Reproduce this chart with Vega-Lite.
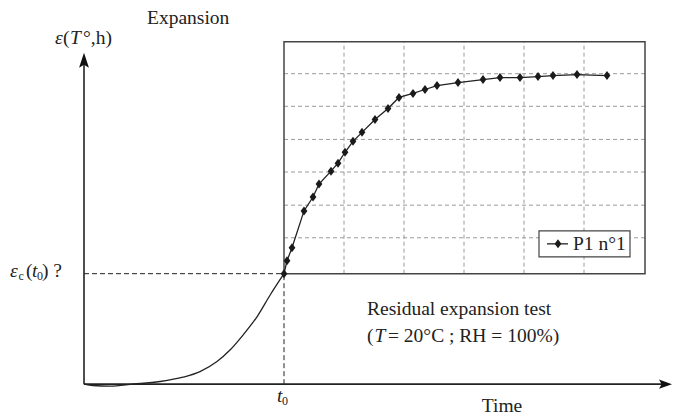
{
  "$schema": "https://vega.github.io/schema/vega-lite/v6.json",
  "autosize": {"type": "fit", "contains": "padding"},
  "width": 673,
  "height": 416,
  "padding": 0,
  "background": "white",
  "view": {"stroke": null},
  "config": {"text": {"font": "Liberation Serif", "fontSize": 19.5, "color": "#222"}},
  "datasets": {
    "curve": [
      {"t": 0, "e": 0}, {"t": 4.5, "e": -1.2}, {"t": 13, "e": -1.8}, {"t": 24.5, "e": 0},
      {"t": 38, "e": 2.4}, {"t": 49.5, "e": 6.3}, {"t": 58, "e": 11.4}, {"t": 66.5, "e": 20.5},
      {"t": 73, "e": 30.9}, {"t": 79.5, "e": 44.4}, {"t": 86.5, "e": 61}, {"t": 93, "e": 80.5},
      {"t": 100, "e": 100}
    ],
    "test": [
      {"t": 100, "e": 100}, {"t": 101.5, "e": 111.7}, {"t": 104, "e": 123.4}, {"t": 110, "e": 156.8},
      {"t": 114.5, "e": 169.4}, {"t": 117.5, "e": 181.1}, {"t": 123.5, "e": 192.8}, {"t": 127, "e": 200},
      {"t": 130.5, "e": 209.9}, {"t": 134.5, "e": 219.8}, {"t": 139, "e": 227.9}, {"t": 145.5, "e": 239.6},
      {"t": 152, "e": 249.5}, {"t": 157.5, "e": 259.5}, {"t": 164.5, "e": 263.1}, {"t": 170.5, "e": 266.7},
      {"t": 176.5, "e": 270.3}, {"t": 187, "e": 273}, {"t": 199.5, "e": 275.7}, {"t": 208, "e": 277.5},
      {"t": 218, "e": 277.5}, {"t": 227, "e": 278.4}, {"t": 234.5, "e": 279.3}, {"t": 246.5, "e": 280.2},
      {"t": 261.5, "e": 279.3}
    ],
    "axes": [
      {"t": 0, "e": 0, "t2": 0, "e2": 292},
      {"t": 0, "e": 0, "t2": 289, "e2": 0}
    ],
    "guides": [
      {"t": 0, "e": 100, "t2": 100, "e2": 100},
      {"t": 100, "e": 0, "t2": 100, "e2": 100}
    ],
    "grid": [
      {"t": 130, "e": 100, "t2": 130, "e2": 310},
      {"t": 160, "e": 100, "t2": 160, "e2": 310},
      {"t": 190, "e": 100, "t2": 190, "e2": 310},
      {"t": 220, "e": 100, "t2": 220, "e2": 310},
      {"t": 250, "e": 100, "t2": 250, "e2": 310},
      {"t": 100, "e": 132.5, "t2": 280.5, "e2": 132.5},
      {"t": 100, "e": 162, "t2": 280.5, "e2": 162},
      {"t": 100, "e": 192, "t2": 280.5, "e2": 192},
      {"t": 100, "e": 221.5, "t2": 280.5, "e2": 221.5},
      {"t": 100, "e": 251.5, "t2": 280.5, "e2": 251.5},
      {"t": 100, "e": 281, "t2": 280.5, "e2": 281}
    ],
    "box": [{"t": 100, "e": 100, "t2": 280.5, "e2": 310}],
    "legendBox": [{"t": 227.5, "e": 115.3, "t2": 273, "e2": 138.7}],
    "legendLine": [{"t": 231.5, "e": 127, "t2": 242, "e2": 127}],
    "legendMarker": [{"t": 237, "e": 127}],
    "upArrow": [{"t": 0, "e": 293.2}],
    "rightArrow": [{"t": 290.75, "e": 0}],
    "labels": [
      {"t": 31.5, "e": 331.5, "label": "Expansion"},
      {"t": -10.5, "e": 313.5, "label": "("},
      {"t": -0.5, "e": 313.5, "label": "°,h)"},
      {"t": -29, "e": 102.7, "label": "("},
      {"t": -21, "e": 102.7, "label": ") ?"},
      {"t": 141.5, "e": 67.6, "label": "Residual expansion test"},
      {"t": 141.5, "e": 43.2, "label": "("},
      {"t": 152, "e": 43.2, "label": "= 20°C ; RH = 100%)"},
      {"t": 244.5, "e": 127, "label": "P1 n°1"}
    ],
    "italics": [
      {"t": -14.5, "e": 313.5, "label": "ε"},
      {"t": -7, "e": 313.5, "label": "T"},
      {"t": -37, "e": 102.7, "label": "ε"},
      {"t": -26, "e": 102.7, "label": "t"},
      {"t": 145.25, "e": 43.2, "label": "T"},
      {"t": 96.5, "e": -10.8, "label": "t"}
    ],
    "subs": [
      {"t": -32.8, "e": 98.2, "label": "c"},
      {"t": -23.5, "e": 98.2, "label": "0"},
      {"t": 99, "e": -15.3, "label": "0"}
    ],
    "centered": [
      {"t": 209, "e": -19.8, "label": "Time"}
    ]
  },
  "encoding": {
    "x": {"field": "t", "type": "quantitative", "scale": {"domain": [-42, 294.5], "nice": false, "zero": false}, "axis": null},
    "y": {"field": "e", "type": "quantitative", "scale": {"domain": [-27, 347.7], "nice": false, "zero": false}, "axis": null}
  },
  "layer": [
    {
      "data": {"name": "grid"},
      "mark": {"type": "rule", "color": "#9a9a9a", "strokeWidth": 1, "strokeDash": [4, 3]},
      "encoding": {"x2": {"field": "t2"}, "y2": {"field": "e2"}}
    },
    {
      "data": {"name": "box"},
      "mark": {"type": "rect", "fill": null, "fillOpacity": 0, "stroke": "#444", "strokeWidth": 1.5},
      "encoding": {"x2": {"field": "t2"}, "y2": {"field": "e2"}}
    },
    {
      "data": {"name": "legendBox"},
      "mark": {"type": "rect", "fill": "white", "stroke": "#444", "strokeWidth": 1.2},
      "encoding": {"x2": {"field": "t2"}, "y2": {"field": "e2"}}
    },
    {
      "data": {"name": "guides"},
      "mark": {"type": "rule", "color": "#222", "strokeWidth": 1, "strokeDash": [5, 3]},
      "encoding": {"x2": {"field": "t2"}, "y2": {"field": "e2"}}
    },
    {
      "data": {"name": "axes"},
      "mark": {"type": "rule", "color": "#222", "strokeWidth": 1.6},
      "encoding": {"x2": {"field": "t2"}, "y2": {"field": "e2"}}
    },
    {
      "data": {"name": "curve"},
      "mark": {"type": "line", "color": "#222", "strokeWidth": 1.3, "interpolate": "monotone"},
      "encoding": {"order": {"field": "t", "type": "quantitative"}}
    },
    {
      "data": {"name": "test"},
      "mark": {"type": "line", "color": "#222", "strokeWidth": 1.3},
      "encoding": {"order": {"field": "t", "type": "quantitative"}}
    },
    {
      "data": {"name": "test"},
      "mark": {"type": "point", "shape": "M0,-1L0.75,0L0,1L-0.75,0Z", "size": 81, "filled": true, "color": "#1a1a1a", "opacity": 1},
      "encoding": {}
    },
    {
      "data": {"name": "legendLine"},
      "mark": {"type": "rule", "color": "#222", "strokeWidth": 1.3},
      "encoding": {"x2": {"field": "t2"}, "y2": {"field": "e2"}}
    },
    {
      "data": {"name": "legendMarker"},
      "mark": {"type": "point", "shape": "M0,-1L0.75,0L0,1L-0.75,0Z", "size": 81, "filled": true, "color": "#1a1a1a", "opacity": 1},
      "encoding": {}
    },
    {
      "data": {"name": "upArrow"},
      "mark": {"type": "point", "shape": "M0,-1L0.66,1L0,0.6L-0.66,1Z", "size": 225, "filled": true, "color": "#111", "opacity": 1},
      "encoding": {}
    },
    {
      "data": {"name": "rightArrow"},
      "mark": {"type": "point", "shape": "M1,0L-1,0.7L-0.6,0L-1,-0.7Z", "size": 169, "filled": true, "color": "#111", "opacity": 1},
      "encoding": {}
    },
    {
      "data": {"name": "labels"},
      "mark": {"type": "text", "align": "left", "baseline": "middle"},
      "encoding": {"text": {"field": "label"}}
    },
    {
      "data": {"name": "italics"},
      "mark": {"type": "text", "align": "left", "baseline": "middle", "fontStyle": "italic"},
      "encoding": {"text": {"field": "label"}}
    },
    {
      "data": {"name": "subs"},
      "mark": {"type": "text", "align": "left", "baseline": "middle", "fontSize": 12},
      "encoding": {"text": {"field": "label"}}
    },
    {
      "data": {"name": "centered"},
      "mark": {"type": "text", "align": "center", "baseline": "middle"},
      "encoding": {"text": {"field": "label"}}
    }
  ]
}
